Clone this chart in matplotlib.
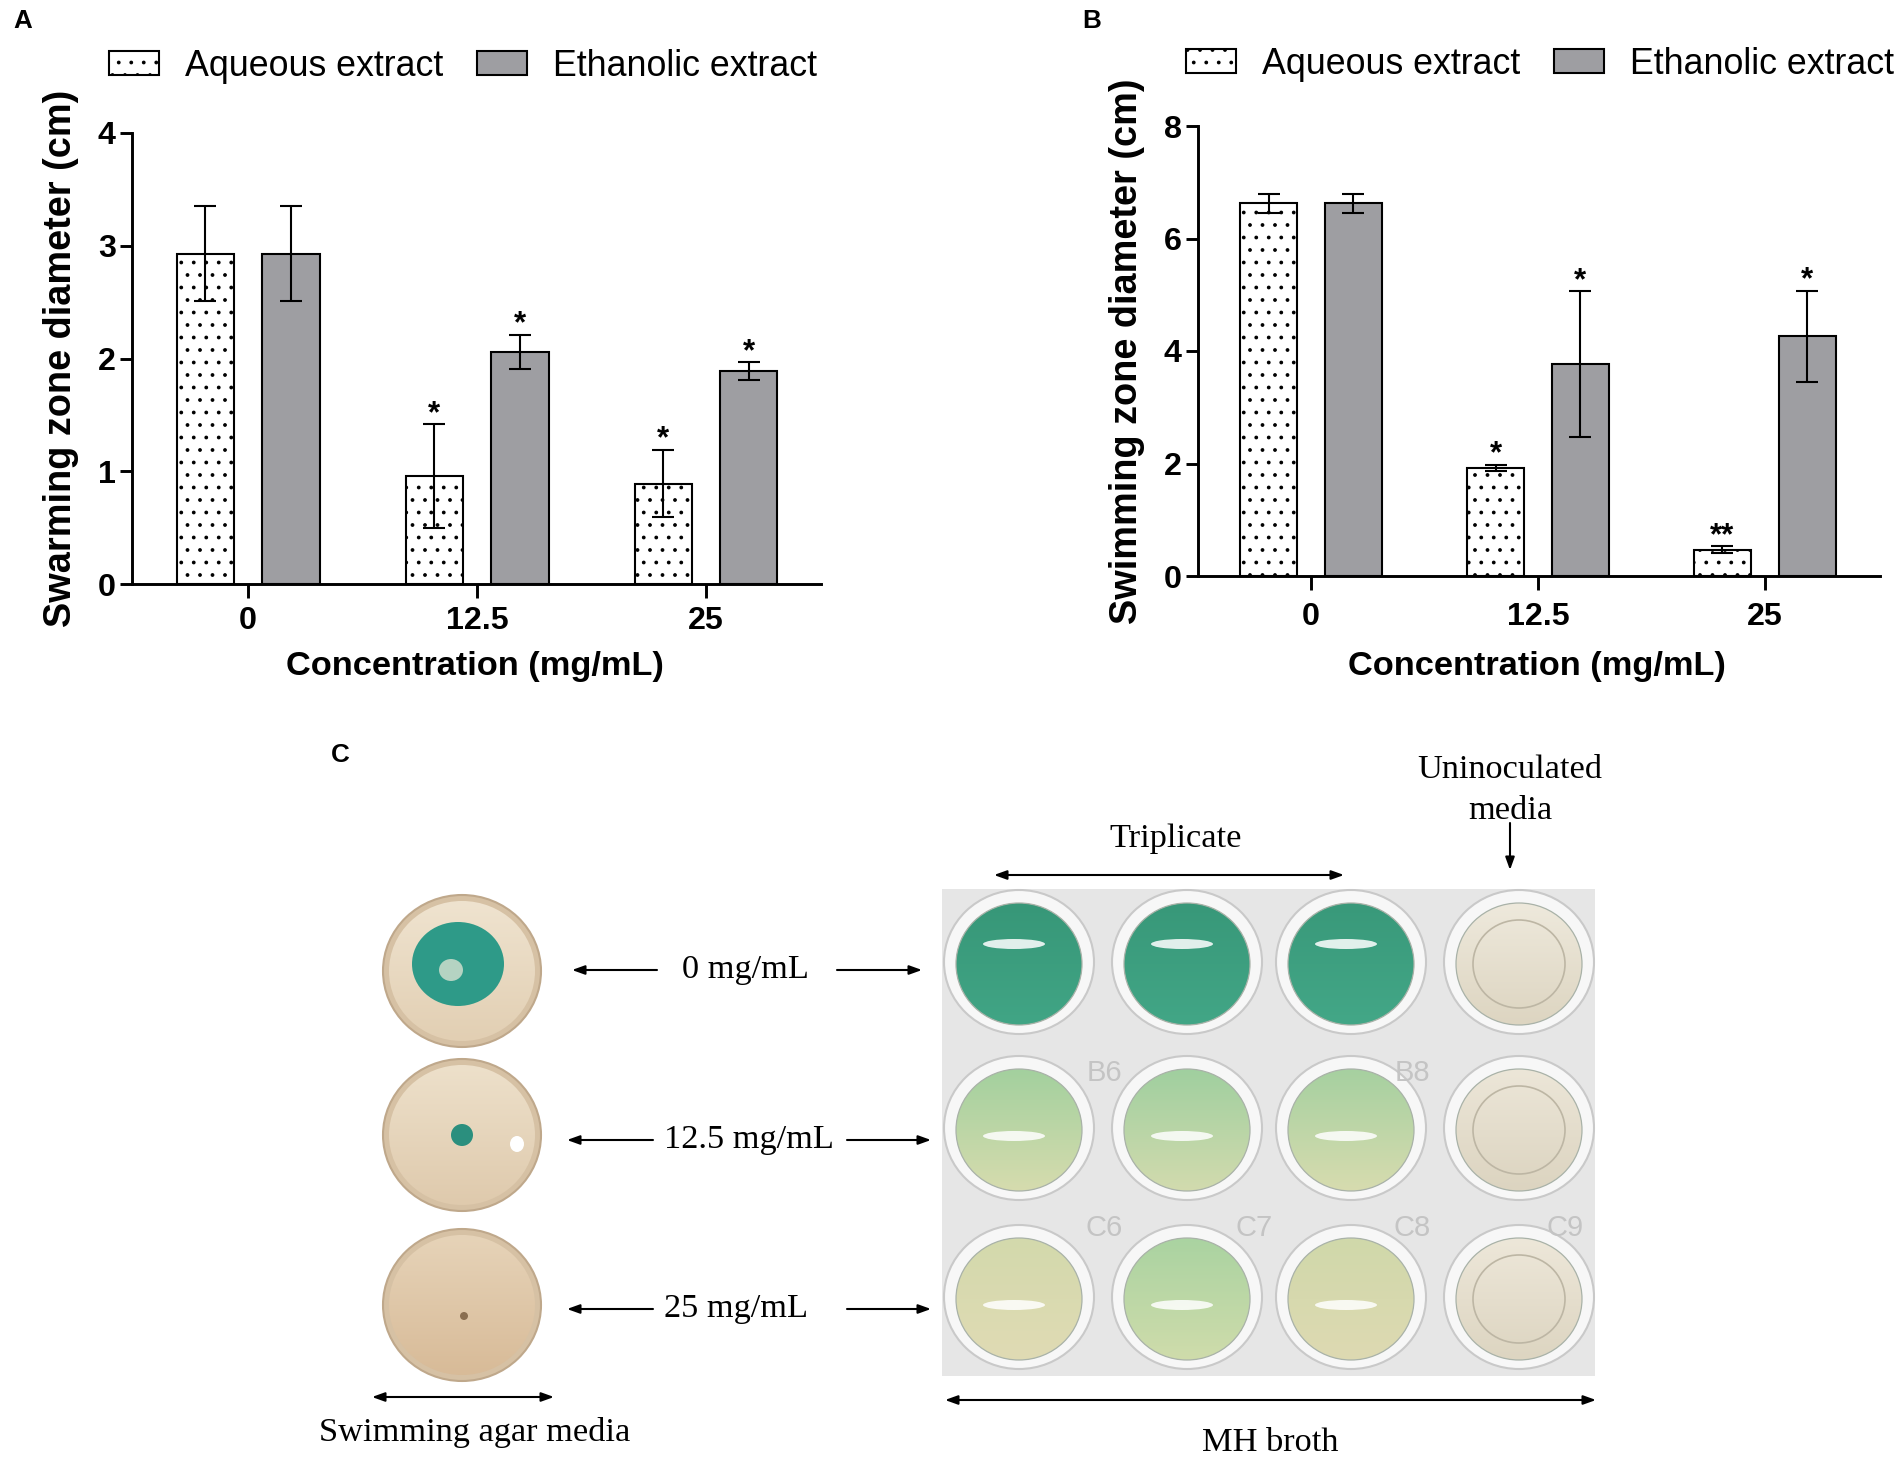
import numpy as np
import matplotlib
matplotlib.use("Agg")
import matplotlib.pyplot as plt
from matplotlib.patches import Ellipse, Rectangle
from matplotlib.colors import LinearSegmentedColormap

plt.rcParams['font.family'] = ['Liberation Sans', 'DejaVu Sans']
plt.rcParams['hatch.linewidth'] = 0.6

W, H = 1901, 1464
DPI = 150

# ---- data ----
concentrations = ["0", "12.5", "25"]
series = ["Aqueous extract", "Ethanolic extract"]

swarm_aq = [2.93, 0.96, 0.89]
swarm_aq_err = [0.42, 0.46, 0.30]
swarm_eth = [2.93, 2.06, 1.89]
swarm_eth_err = [0.42, 0.15, 0.08]
swarm_aq_sig = ["", "*", "*"]
swarm_eth_sig = ["", "*", "*"]

swim_aq = [6.63, 1.92, 0.47]
swim_aq_err = [0.17, 0.06, 0.06]
swim_eth = [6.63, 3.77, 4.26]
swim_eth_err = [0.17, 1.29, 0.81]
swim_aq_sig = ["", "*", "**"]
swim_eth_sig = ["", "*", "*"]

plate_rows = ["0 mg/mL", "12.5 mg/mL", "25 mg/mL"]

fig = plt.figure(figsize=(W / DPI, H / DPI), dpi=DPI)


def px_axes(left, right, top, bottom):
    return fig.add_axes([left / W, 1 - bottom / H, (right - left) / W, (bottom - top) / H])


def bar_panel(ax, aq, aq_err, eth, eth_err, aq_sig, eth_sig, ymax, ystep, xlim, ylabel, xpad):
    x = np.arange(len(concentrations))
    w, off = 0.25, 0.187
    ax.bar(x - off, aq, w, yerr=aq_err, color="white", edgecolor="black", hatch="..",
           linewidth=1.0, label=series[0], capsize=5.5,
           error_kw=dict(elinewidth=1.0, capthick=1.0, ecolor="black"))
    ax.bar(x + off, eth, w, yerr=eth_err, color="#9e9ea2", edgecolor="black",
           linewidth=1.0, label=series[1], capsize=5.5,
           error_kw=dict(elinewidth=1.0, capthick=1.0, ecolor="black"))
    for xs, vals, errs, sigs in [(x - off, aq, aq_err, aq_sig), (x + off, eth, eth_err, eth_sig)]:
        for xi, v, e, s in zip(xs, vals, errs, sigs):
            if s:
                ax.annotate(s, (xi, v + e), xytext=(0, 1), textcoords="offset points",
                            ha="center", va="baseline", fontsize=15, fontweight="bold")
    ax.set_xlim(*xlim)
    ax.set_ylim(0, ymax)
    ax.set_yticks(np.arange(0, ymax + 0.01, ystep))
    ax.set_xticks(x)
    ax.set_xticklabels(concentrations)
    for sp in ["top", "right"]:
        ax.spines[sp].set_visible(False)
    for sp in ["left", "bottom"]:
        ax.spines[sp].set_linewidth(1.4)
    ax.tick_params(axis="y", length=5.8, width=1.4, pad=2, labelsize=15.5)
    ax.tick_params(axis="x", length=6.6, width=1.4, pad=xpad, labelsize=15.5)
    for lab in ax.get_xticklabels() + ax.get_yticklabels():
        lab.set_fontweight("bold")
    ax.set_ylabel(ylabel, fontsize=18.2, fontweight="bold")
    ax.set_xlabel("Concentration (mg/mL)", fontsize=16.5, fontweight="bold")
    ax.yaxis.label.set_va("center")
    ax.xaxis.label.set_va("center")
    ax.patch.set_alpha(0)


legend_kw = dict(ncol=2, frameon=False, loc="center left", bbox_transform=fig.transFigure,
                 fontsize=17.2, handlelength=1.4, handleheight=0.68, handletextpad=0.72,
                 columnspacing=0.95, borderpad=0, borderaxespad=0)

# ---- panel A ----
axA = px_axes(132, 821, 133, 584)
bar_panel(axA, swarm_aq, swarm_aq_err, swarm_eth, swarm_eth_err, swarm_aq_sig, swarm_eth_sig,
          4, 1, (-0.507, 2.502), "Swarming zone diameter (cm)", 4)
axA.yaxis.set_label_coords((61 - 132) / 689, 0.5)
axA.xaxis.set_label_coords((475 - 132) / 689, -(666 - 584) / 451)
axA.legend(bbox_to_anchor=(109 / W, 1 - 66 / H), **legend_kw)

# ---- panel B ----
axB = px_axes(1198, 1880, 126, 576)
bar_panel(axB, swim_aq, swim_aq_err, swim_eth, swim_eth_err, swim_aq_sig, swim_eth_sig,
          8, 2, (-0.498, 2.507), "Swimming zone diameter (cm)", 6)
axB.yaxis.set_label_coords((1127 - 1198) / 682, 0.5)
axB.xaxis.set_label_coords((1537 - 1198) / 682, -(666 - 576) / 450)
axB.legend(bbox_to_anchor=(1186 / W, 1 - 64 / H), **legend_kw)

for lab, (lx, ly) in zip("ABC", [(23, 21), (1092, 21), (340, 755)]):
    fig.text(lx / W, 1 - ly / H, lab, fontsize=12.5, fontweight="bold", ha="center", va="center")

# ---- panel C: sketch of the photographs ----
axC = fig.add_axes([0, 0, 1, 1], zorder=-1)
axC.set_xlim(0, W)
axC.set_ylim(H, 0)
axC.axis("off")

serif = ["Liberation Serif", "DejaVu Serif"]
ramp = np.linspace(0, 1, 64).reshape(-1, 1)


def gradient_ellipse(cx, cy, w, h, top, bottom, edge=None, lw=0.0):
    cmap = LinearSegmentedColormap.from_list("g", [top, bottom])
    im = axC.imshow(ramp, cmap=cmap, extent=(cx - w / 2, cx + w / 2, cy + h / 2, cy - h / 2),
                    aspect="auto", interpolation="bilinear", zorder=2)
    clip = Ellipse((cx, cy), w, h, transform=axC.transData, facecolor="none",
                   edgecolor=edge if edge else "none", lw=lw, zorder=3)
    axC.add_patch(clip)
    im.set_clip_path(clip)


# agar plates
dish_y = [971, 1135, 1305]
dish_top = ["#efe3cf", "#ede0ca", "#e6d3b8"]
dish_bottom = ["#e2cfb3", "#dfcaad", "#d8bb98"]
for dy, tc, bc in zip(dish_y, dish_top, dish_bottom):
    axC.add_patch(Ellipse((462, dy), 158, 152, facecolor="#d6c1a4", edgecolor="#bfa88b", lw=1, zorder=1))
    gradient_ellipse(462, dy, 146, 140, tc, bc)
axC.add_patch(Ellipse((458, 964), 92, 84, facecolor="#2e9a88", edgecolor="none", zorder=4))
axC.add_patch(Ellipse((451, 970), 24, 22, facecolor="#b5d3c2", edgecolor="none", zorder=4))
axC.add_patch(Ellipse((462, 1135), 22, 22, facecolor="#2b8f7e", edgecolor="none", zorder=4))
axC.add_patch(Ellipse((517, 1144), 14, 16, facecolor="white", edgecolor="none", zorder=4))
axC.add_patch(Ellipse((464, 1316), 8, 8, facecolor="#8a6e50", edgecolor="none", zorder=4))

# well plate
axC.add_patch(Rectangle((942, 889), 653, 487, facecolor="#e6e6e6", edgecolor="none", zorder=0))
well_x = [1019, 1187, 1351, 1519]
well_y = [962, 1128, 1297]
well_top = [["#379778", "#389879", "#39997a", "#eee9dc"],
            ["#a3d09e", "#a0cf9f", "#a6d0a0", "#ece6d8"],
            ["#d3d9ac", "#aad3a1", "#d0d8aa", "#ede7d9"]]
well_bottom = [["#41a585", "#42a686", "#43a787", "#ddd5c1"],
               ["#d6dcae", "#d2dbae", "#d7dcaf", "#dcd4c0"],
               ["#e0dbb4", "#cfdcab", "#dedab2", "#ddd5c1"]]
for r, wy in enumerate(well_y):
    for c, wx in enumerate(well_x):
        axC.add_patch(Ellipse((wx, wy), 150, 144, facecolor="#f7f7f7", edgecolor="#c9c9c9", lw=1, zorder=1))
        gradient_ellipse(wx, wy + 2, 126, 122, well_top[r][c], well_bottom[r][c], edge="#a9b2a8", lw=0.6)
        if c < 3:
            axC.add_patch(Ellipse((wx - 5, wy + (-18 if r == 0 else 8)), 62, 10,
                                  facecolor="white", edgecolor="none", alpha=0.85, zorder=4))
        else:
            axC.add_patch(Ellipse((wx, wy + 2), 92, 88, facecolor="none", edgecolor="#bdb6a4", lw=0.8, zorder=4))

for txt, (tx, ty) in [("B6", (1104, 1073)), ("B8", (1412, 1073)), ("C6", (1104, 1228)),
                      ("C7", (1254, 1228)), ("C8", (1412, 1228)), ("C9", (1565, 1228))]:
    axC.text(tx, ty, txt, fontsize=14, color="#c4c4c4", ha="center", va="center", zorder=1.5)

# row labels with arrows
label_y = [970, 1140, 1309]
label_x = [745, 749, 736]
left_arrows = [(657, 572), (653, 567), (653, 567)]
right_arrows = [(837, 922), (847, 931), (847, 931)]
arrow_kw = dict(arrowstyle="-|>,head_length=0.5,head_width=0.18", lw=1.0, color="black",
                shrinkA=0, shrinkB=0)
for txt, ly, lx, la, ra in zip(plate_rows, label_y, label_x, left_arrows, right_arrows):
    axC.text(lx, ly, txt, fontsize=16.5, family=serif, ha="center", va="center")
    axC.annotate("", xy=(la[1], ly), xytext=(la[0], ly), arrowprops=arrow_kw)
    axC.annotate("", xy=(ra[1], ly), xytext=(ra[0], ly), arrowprops=arrow_kw)

both_kw = dict(arrowstyle="<|-|>,head_length=0.5,head_width=0.18", lw=1.0, color="black",
               shrinkA=0, shrinkB=0)
axC.annotate("", xy=(372, 1397), xytext=(554, 1397), arrowprops=both_kw)
axC.text(475, 1433, "Swimming agar media", fontsize=16.5, family=serif, ha="center", va="center")
axC.annotate("", xy=(945, 1400), xytext=(1596, 1400), arrowprops=both_kw)
axC.text(1270, 1443, "MH broth", fontsize=16.5, family=serif, ha="center", va="center")
axC.annotate("", xy=(994, 875), xytext=(1344, 875), arrowprops=both_kw)
axC.text(1176, 839, "Triplicate", fontsize=16.5, family=serif, ha="center", va="center")
axC.text(1510, 770, "Uninoculated", fontsize=16.5, family=serif, ha="center", va="center")
axC.text(1510, 811, "media", fontsize=16.5, family=serif, ha="center", va="center")
axC.annotate("", xy=(1510, 870), xytext=(1510, 823), arrowprops=arrow_kw)

fig.savefig("out.png", dpi=DPI)
